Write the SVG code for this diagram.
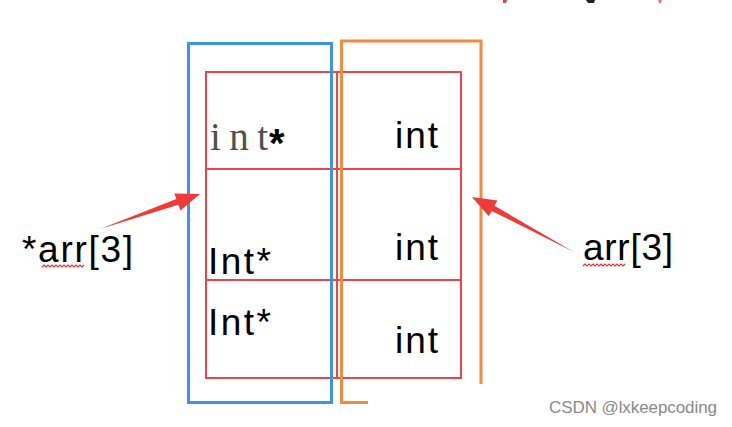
<svg xmlns="http://www.w3.org/2000/svg" width="732" height="427" viewBox="0 0 732 427">
<style>
.cell{fill:none;stroke:#f0444c;stroke-width:2}
.t{font-family:"Liberation Sans",Arial,sans-serif;font-size:37px;fill:#000}
.mono{font-family:"Liberation Serif","Times New Roman",serif;font-size:39px;fill:#505050}
.arrow{fill:#f03a3a}
.wavy{fill:none;stroke:#f03030;stroke-width:1.2}
</style>
<rect width="732" height="427" fill="#fff"/>
<g id="top-fragments">
<path d="M503,0 L507,0 L506,3 L503,3 Z" fill="#f03a3a"/>
<path d="M586,0 L595,0 L594,3 L588,3 Z" fill="#222"/>
<path d="M658,0 L662,0 L661,3 L659,3 Z" fill="#f07a7a"/>
</g>
<g id="grid">
<rect class="cell" x="206" y="72" width="255" height="306"/>
<line class="cell" x1="206" y1="169" x2="461" y2="169"/>
<line class="cell" x1="206" y1="280" x2="461" y2="280"/>
<line class="cell" x1="337" y1="72" x2="337" y2="378"/>
</g>
<g id="pointer-array">
<rect x="188.5" y="43.5" width="143" height="359" fill="none" stroke="#3d94e0" stroke-width="3"/>
</g>
<g id="int-array">
<path d="M481,384 L481,41 L341.5,41 L341.5,402.5 L368,402.5" fill="none" stroke="#f58a3a" stroke-width="3"/>
</g>
<g id="cell-texts">
<text class="mono" x="210" y="150"><tspan textLength="58" lengthAdjust="spacing">int</tspan><tspan x="269" y="157" font-family="Liberation Sans,Arial,sans-serif" font-size="40" fill="#000" font-weight="bold">*</tspan></text>
<text class="t" x="395" y="148" textLength="43">int</text>
<text class="t" x="208" y="274" textLength="63">Int*</text>
<text class="t" x="395" y="260" textLength="43">int</text>
<text class="t" x="208" y="335" textLength="63">Int*</text>
<text class="t" x="395" y="353" textLength="43">int</text>
</g>
<g id="label-left">
<text class="t" x="22" y="262" textLength="111">*arr[3]</text>
<path class="wavy" d="M42,267 l2,-2 l2,2 l2,-2 l2,2 l2,-2 l2,2 l2,-2 l2,2 l2,-2 l2,2 l2,-2 l2,2 l2,-2 l2,2 l2,-2 l2,2 l2,-2 l2,2 l2,-2 l2,2 l2,-2"/>
</g>
<g id="label-right">
<text class="t" x="583" y="260" textLength="90">arr[3]</text>
<path class="wavy" d="M583,266 l2,-2 l2,2 l2,-2 l2,2 l2,-2 l2,2 l2,-2 l2,2 l2,-2 l2,2 l2,-2 l2,2 l2,-2 l2,2 l2,-2 l2,2 l2,-2 l2,2 l2,-2 l2,2 l2,-2"/>
</g>
<g id="connectors">
<polygon class="arrow" points="100,229 176.4,199.1 174.4,193.4 200,194 180.4,210.4 178.4,204.7"/>
<polygon class="arrow" points="574,252 494.5,205.8 497.4,200.5 472,197 488.8,216.3 491.7,211.0"/>
</g>
<text x="549" y="413" font-family="Liberation Sans,Arial,sans-serif" font-size="17" fill="#8a8a8a" textLength="168">CSDN @lxkeepcoding</text>
</svg>
